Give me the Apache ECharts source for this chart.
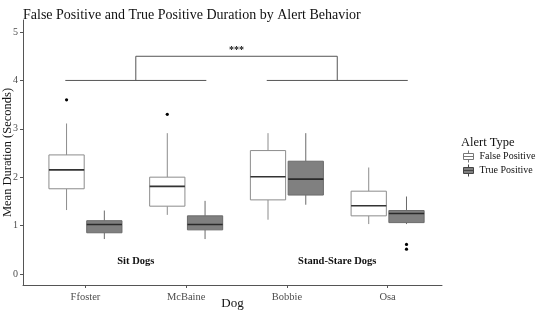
<!DOCTYPE html>
<html>
<head>
<meta charset="utf-8">
<script src="https://cdn.jsdelivr.net/npm/echarts@6/dist/echarts.min.js"></script>
<style>html,body{margin:0;padding:0;background:#fff}#c{width:536px;height:313px}</style>
</head>
<body>
<div id="c"></div>
<script>
// ---- data ----
const dogs = ['Ffoster', 'McBaine', 'Bobbie', 'Osa'];
const yTicks = [0, 1, 2, 3, 4, 5];
// [min whisker, Q1, median, Q3, max whisker]
const falsePositive = [
  [1.32, 1.76, 2.15, 2.46, 3.11],
  [1.22, 1.40, 1.81, 2.00, 2.91],
  [1.12, 1.53, 2.01, 2.55, 2.91],
  [1.03, 1.20, 1.41, 1.71, 2.20]
];
const truePositive = [
  [0.72, 0.85, 1.02, 1.10, 1.31],
  [0.72, 0.91, 1.02, 1.20, 1.51],
  [1.43, 1.63, 1.96, 2.33, 2.91],
  [1.03, 1.06, 1.25, 1.31, 1.60]
];
// [dog index, value]
const falsePositiveOutliers = [[0, 3.60], [1, 3.30]];
const truePositiveOutliers = [[3, 0.61], [3, 0.51]];
// significance bracket (x in dog-index units, y in seconds)
const groupLines = [[-0.2, 1.2, 4.0], [1.8, 3.2, 4.0]];
const bracket = [[0.5, 4.0], [0.5, 4.5], [2.5, 4.5], [2.5, 4.0]];
const stars = [[1.5, 4.62, '***']];
const groupLabels = [[0.5, 0.27, 'Sit Dogs'], [2.5, 0.27, 'Stand-Stare Dogs']];

const FONT = '"Liberation Serif", "Times New Roman", serif';
const DODGE = 0.1875, HALF = 0.175;

function boxSeries(name, stats, offset, fill, stroke, med) {
  return {
    name, type: 'custom',
    data: stats.map((s, i) => [i, ...s]),
    encode: { x: 0, y: [1, 2, 3, 4, 5] },
    itemStyle: { color: fill, borderColor: stroke },
    renderItem(params, api) {
      const x = api.value(0) + offset;
      const v = [1, 2, 3, 4, 5].map(k => api.value(k));
      const c = api.coord([x, v[2]])[0];
      const l = api.coord([x - HALF, 0])[0], r = api.coord([x + HALF, 0])[0];
      const y = v.map(val => api.coord([x, val])[1]);
      const ls = { stroke: stroke, lineWidth: 1 };
      return {
        type: 'group', children: [
          { type: 'line', shape: { x1: c, y1: y[4], x2: c, y2: y[3] }, style: ls },
          { type: 'line', shape: { x1: c, y1: y[1], x2: c, y2: y[0] }, style: ls },
          { type: 'rect', shape: { x: l, y: y[3], width: r - l, height: y[1] - y[3] }, style: { fill: fill, stroke: stroke, lineWidth: 1 } },
          { type: 'line', shape: { x1: l, y1: y[2], x2: r, y2: y[2] }, style: { stroke: med, lineWidth: 1.6 } }
        ]
      };
    }
  };
}
function outlierSeries(name, pts, offset) {
  return {
    name: name + ' outliers', type: 'custom', data: pts,
    encode: { x: 0, y: 1 }, silent: true,
    renderItem(params, api) {
      const p = api.coord([api.value(0) + offset, api.value(1)]);
      return { type: 'circle', shape: { cx: p[0], cy: p[1], r: 1.6 }, style: { fill: '#000' } };
    }
  };
}

const chart = echarts.init(document.getElementById('c'), null, { renderer: 'canvas' });
chart.setOption({
  animation: false,
  backgroundColor: '#fff',
  title: {
    text: 'False Positive and True Positive Duration by Alert Behavior',
    left: 18, top: 3,
    textStyle: { fontFamily: FONT, fontSize: 14, fontWeight: 'normal', color: '#111' }
  },
  grid: { left: 23, right: 94, top: 20, bottom: 28, containLabel: false, outerBoundsMode: 'none' },
  xAxis: {
    type: 'value', min: -0.62, max: 3.54,
    splitLine: { show: false },
    axisLine: { onZero: false, lineStyle: { color: '#555', width: 1 } },
    axisTick: { customValues: dogs.map((d, i) => i), length: 3, lineStyle: { color: '#555' } },
    axisLabel: {
      customValues: dogs.map((d, i) => i), margin: 7,
      formatter: v => dogs[Math.round(v)] || '',
      fontFamily: FONT, fontSize: 10.5, color: '#4d4d4d'
    },
    name: 'Dog', nameLocation: 'middle', nameGap: 12, nameMoveOverlap: false,
    nameTextStyle: { fontFamily: FONT, fontSize: 13, color: '#111' }
  },
  yAxis: {
    type: 'value', min: -0.23, max: 5.25,
    splitLine: { show: false },
    axisLine: { show: true, onZero: false, lineStyle: { color: '#555', width: 1 } },
    axisTick: { show: true, customValues: yTicks, length: 3, lineStyle: { color: '#555' } },
    axisLabel: { customValues: yTicks, margin: 5, fontFamily: FONT, fontSize: 10, color: '#4d4d4d' },
    name: 'Mean Duration (Seconds)', nameLocation: 'middle', nameGap: 9, nameMoveOverlap: false,
    nameTextStyle: { fontFamily: FONT, fontSize: 12.5, color: '#111' }
  },
  legend: {
    orient: 'vertical', left: 463, top: 150, padding: 0, itemWidth: 12, itemHeight: 12, itemGap: 1,
    textStyle: { fontFamily: FONT, fontSize: 10, color: '#111' },
    data: [
      { name: 'False Positive', icon: 'path://M0,3 L10,3 L10,9 L0,9 Z M5,0 L5,3 M5,9 L5,12 M0,6 L10,6',
        itemStyle: { color: '#fff', borderColor: '#777', borderWidth: 1 } },
      { name: 'True Positive', icon: 'path://M0,3 L10,3 L10,9 L0,9 Z M5,0 L5,3 M5,9 L5,12 M0,6 L10,6',
        itemStyle: { color: '#7f7f7f', borderColor: '#444', borderWidth: 1 } }
    ]
  },
  graphic: [{
    type: 'text', left: 461, top: 136,
    style: { text: 'Alert Type', font: '12.5px ' + FONT, fill: '#111' }
  }],
  series: [
    boxSeries('False Positive', falsePositive, -DODGE, '#ffffff', '#8c8c8c', '#333'),
    boxSeries('True Positive', truePositive, DODGE, '#808080', '#6a6a6a', '#2a2a2a'),
    outlierSeries('False Positive', falsePositiveOutliers, -DODGE),
    outlierSeries('True Positive', truePositiveOutliers, DODGE),
    {
      name: 'groups', type: 'custom', data: groupLines, silent: true,
      encode: { x: [0, 1], y: 2 },
      renderItem(params, api) {
        const a = api.coord([api.value(0), api.value(2)]), b = api.coord([api.value(1), api.value(2)]);
        return { type: 'line', shape: { x1: a[0], y1: a[1], x2: b[0], y2: b[1] }, style: { stroke: '#555', lineWidth: 1 } };
      }
    },
    {
      name: 'bracket', type: 'line', data: bracket, silent: true, symbol: 'none',
      lineStyle: { color: '#555', width: 1 }
    },
    {
      name: 'notes', type: 'custom', silent: true,
      data: groupLabels.concat(stars),
      encode: { x: 0, y: 1 },
      renderItem(params, api) {
        const item = params.dataIndex < groupLabels.length ? groupLabels[params.dataIndex] : stars[params.dataIndex - groupLabels.length];
        const p = api.coord([item[0], item[1]]);
        const isStar = item[2] === '***';
        return {
          type: 'text', x: p[0], y: p[1],
          style: { text: item[2], font: 'bold ' + (isStar ? 10 : 10.5) + 'px ' + FONT, fill: '#111', align: 'center', verticalAlign: 'middle' }
        };
      }
    }
  ]
});
</script>
</body>
</html>
